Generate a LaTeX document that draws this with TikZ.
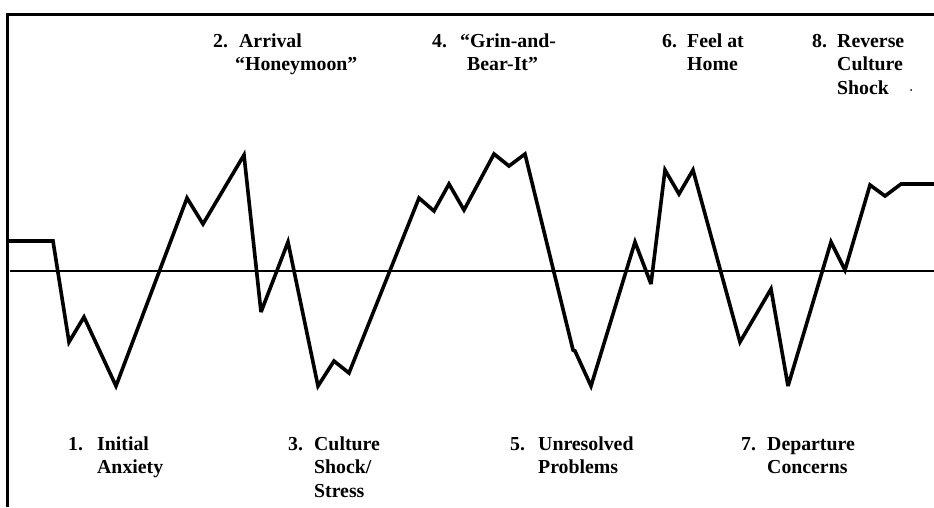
\documentclass[tikz,border=0pt]{standalone}
\usepackage{fontspec}
\setmainfont{Liberation Serif}
\begin{document}
\begin{tikzpicture}[x=1pt,y=-1pt,
  lbl/.style={anchor=base west,inner sep=0pt,font=\fontsize{19.8}{23}\selectfont\bfseries},
  curve/.style={line width=3.6pt,line join=miter,miter limit=4},
  axis/.style={line width=2pt},
  frame/.style={line width=3pt}]
\useasboundingbox (0,0) rectangle (934,507);
% frame
\draw[frame] (7,507) -- (7,14) -- (934,14);
% baseline
\draw[axis] (10,271) -- (934,271);
% adjustment curve
\draw[curve] (8,241) -- (53,241) -- (69,342) -- (84,317) -- (116,386)
  -- (187,198) -- (203,224) -- (244,155) -- (261,312) -- (288,242)
  -- (318,386) -- (334,361) -- (349,373) -- (419,198) -- (434,211)
  -- (449,184) -- (464,210) -- (494,154) -- (509,166) -- (525,154)
  -- (573,350) -- (575,351) -- (591,386) -- (635,242) -- (651,284)
  -- (665,170) -- (679,194) -- (693,170) -- (740,342) -- (771,289)
  -- (788,386) -- (831,242) -- (845,270) -- (870,185) -- (885,196)
  -- (901,184) -- (934,184);
% top labels
\node[lbl] (n2) at (213,47) {2.};
\node[lbl] (t2a) at (239,47) {Arrival};
\node[lbl] (t2b) at (235,70) {“Honeymoon”};
\node[lbl] (n4) at (432,47) {4.};
\node[lbl] (t4a) at (460,47) {“Grin-and-};
\node[lbl] (t4b) at (467,70) {Bear-It”};
\node[lbl] (n6) at (662,47) {6.};
\node[lbl] (t6a) at (687,47) {Feel at};
\node[lbl] (t6b) at (687,70) {Home};
\node[lbl] (n8) at (812,47) {8.};
\node[lbl] (t8a) at (837,47) {Reverse};
\node[lbl] (t8b) at (837,70) {Culture};
\node[lbl] (t8c) at (837,94) {Shock};
\fill (911,90) circle (1pt);
% bottom labels
\node[lbl] (n1) at (68,450) {1.};
\node[lbl] (t1a) at (97,450) {Initial};
\node[lbl] (t1b) at (97,473) {Anxiety};
\node[lbl] (n3) at (288,450) {3.};
\node[lbl] (t3a) at (314,450) {Culture};
\node[lbl] (t3b) at (314,473) {Shock/};
\node[lbl] (t3c) at (314,497) {Stress};
\node[lbl] (n5) at (510,450) {5.};
\node[lbl] (t5a) at (538,450) {Unresolved};
\node[lbl] (t5b) at (538,473) {Problems};
\node[lbl] (n7) at (741,450) {7.};
\node[lbl] (t7a) at (767,450) {Departure};
\node[lbl] (t7b) at (767,473) {Concerns};
\end{tikzpicture}
\end{document}
